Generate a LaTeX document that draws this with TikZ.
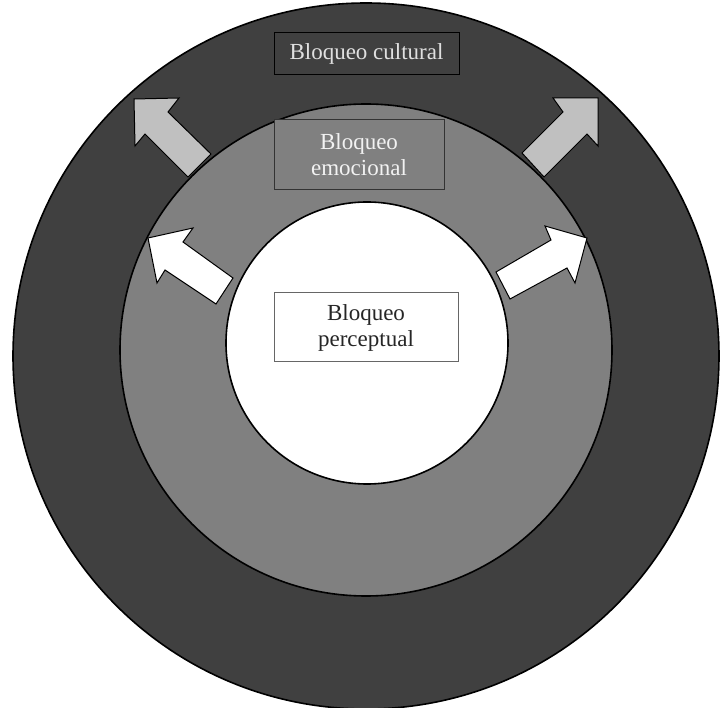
\documentclass[tikz,border=0pt]{standalone}
\usepackage{fontspec}
\setmainfont{Liberation Serif}
\begin{document}
\begin{tikzpicture}[x=1pt,y=-1pt,
  ring/.style={draw=black,line width=1.6pt},
  lbl/.style={draw,line width=1pt,inner sep=0pt,align=center,font=\fontsize{23}{26}\selectfont},
  arr/.style={draw=black,line width=1pt,line join=miter}]
\definecolor{dark}{HTML}{404040}
\definecolor{mid}{HTML}{808080}
\definecolor{light}{HTML}{C0C0C0}
\useasboundingbox (0,0) rectangle (721,708);
\fill[white] (0,0) rectangle (721,708);
\node[ring,fill=dark,circle,minimum size=706pt,inner sep=0pt] (outer) at (366,356) {};
% upper arrows (light gray)
\draw[arr,fill=light] (134,99) -- (179,98) -- (168,112) -- (211,154) -- (188,177) -- (145,134) -- (135,146) -- cycle;
\draw[arr,fill=light] (598,98) -- (553,98) -- (563,112) -- (522,153) -- (544,177) -- (587,134) -- (598,146) -- cycle;
\node[ring,fill=mid,circle,minimum size=492pt,inner sep=0pt] (middle) at (366,350) {};
% lower arrows (white)
\draw[arr,fill=white] (148,238) -- (193,228) -- (183,242) -- (233,278) -- (216,304) -- (165,270) -- (157,283) -- cycle;
\draw[arr,fill=white] (587,238) -- (545,226) -- (551,240) -- (496,272) -- (510,299) -- (567,268) -- (575,283) -- cycle;
\node[ring,fill=white,circle,minimum size=282pt,inner sep=0pt] (inner) at (367,343) {};
% labels
\node[lbl,draw=black,fill=dark,text=white!88!black,minimum width=185pt,minimum height=42pt] (cult) at (366.5,54) {Bloqueo cultural};
\node[lbl,draw=black!80,fill=mid,text=white!95!black,minimum width=170pt,minimum height=70pt] (emo) at (359,155) {Bloqueo\\emocional};
\node[lbl,draw=dark!80,fill=white,text=black!85,minimum width=184pt,minimum height=69pt] (perc) at (366,327.5) {Bloqueo\\perceptual};
\end{tikzpicture}
\end{document}
